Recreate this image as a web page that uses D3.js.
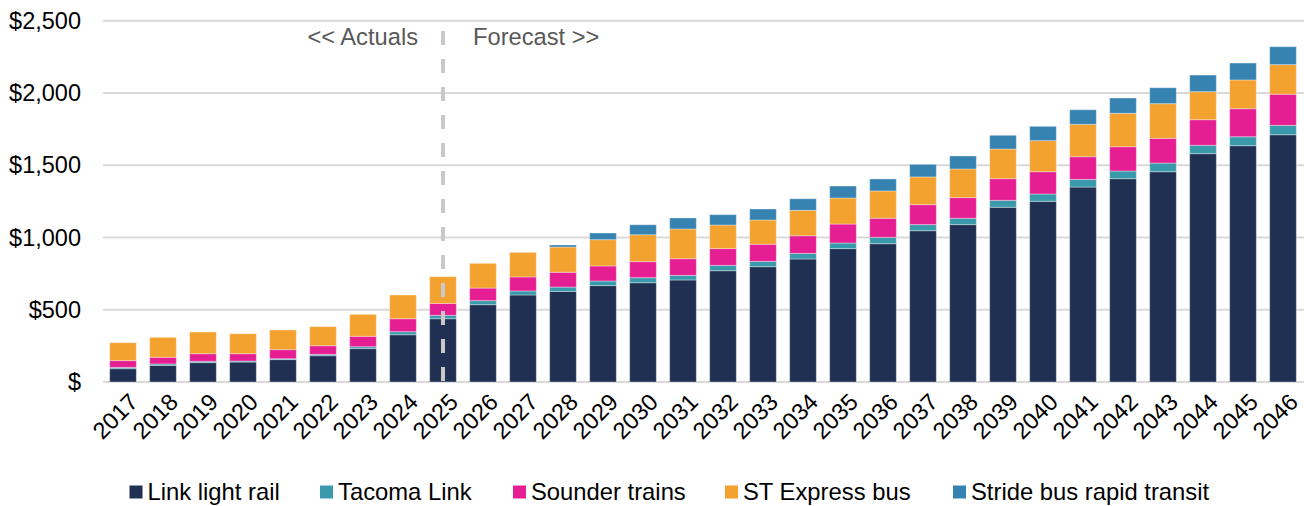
<!DOCTYPE html>
<html>
<head>
<meta charset="utf-8">
<script src="https://cdn.jsdelivr.net/npm/d3@7"></script>
<style>
  html, body { margin: 0; padding: 0; background: #fff; }
  svg { display: block; }
  text { font-family: "Liberation Sans", Arial, sans-serif; }
</style>
</head>
<body>
<svg id="chart" width="1304" height="506"></svg>
<script>
// Sound Transit operating cost by mode, $ millions
const years = ["2017","2018","2019","2020","2021","2022","2023","2024","2025","2026",
  "2027","2028","2029","2030","2031","2032","2033","2034","2035","2036",
  "2037","2038","2039","2040","2041","2042","2043","2044","2045","2046"];

const linkLightRail = [92,115,134,138,155,182,231,327,438,535,602,627,667,687,706,
  770,798,851,923,957,1047,1089,1209,1250,1349,1407,1455,1580,1635,1711];
const tacomaLink = [9,10,9,7,6,9,13,21,23,28,28,30,32,35,32,
  37,37,39,39,44,42,44,48,51,53,53,60,58,62,65];
const sounderTrains = [47,46,53,51,63,60,72,90,83,87,97,102,104,111,115,
  116,118,122,131,132,138,143,150,154,157,168,171,177,194,215];
const stExpressBus = [124,138,150,138,136,132,152,164,185,171,170,175,182,186,206,
  163,168,176,180,189,192,198,205,215,224,231,240,194,199,205];
const strideBrt = [0,0,0,0,0,0,0,0,0,0,0,14,46,69,76,
  72,76,80,83,83,87,90,95,99,101,106,110,115,117,124];

const seriesNames = ["Link light rail","Tacoma Link","Sounder trains","ST Express bus","Stride bus rapid transit"];
const seriesValues = [linkLightRail, tacomaLink, sounderTrains, stExpressBus, strideBrt];
const seriesColors = ["#1f3052","#3a9aab","#e61e93","#f3a12f","#3683b2"];

const yTicks = [0, 500, 1000, 1500, 2000, 2500];
const yTickLabels = ["$", "$500", "$1,000", "$1,500", "$2,000", "$2,500"];
const splitYear = "2025";

const svg = d3.select("#chart");
const margin = { left: 103, right: 1, top: 20.7, bottom: 382 };

const x = d3.scaleBand().domain(years).range([margin.left, 1304 - margin.right]).paddingInner(0.333).paddingOuter(0.1665);
const y = d3.scaleLinear().domain([0, 2500]).range([margin.bottom, margin.top]);

// table rows for stacking
const rows = years.map((yr, i) => {
  const r = { year: yr };
  seriesNames.forEach((n, k) => { r[n] = seriesValues[k][i]; });
  return r;
});
const stacked = d3.stack().keys(seriesNames)(rows);

// gridlines
svg.append("g")
  .selectAll("line")
  .data(yTicks)
  .join("line")
  .attr("x1", margin.left).attr("x2", 1304)
  .attr("y1", d => y(d)).attr("y2", d => y(d))
  .attr("stroke", "#d9d9d9").attr("stroke-width", 2);

// y tick labels
svg.append("g")
  .selectAll("text")
  .data(yTicks)
  .join("text")
  .attr("x", 81).attr("y", d => y(d))
  .attr("dy", "0.35em")
  .attr("text-anchor", "end")
  .attr("font-size", 23.5)
  .attr("fill", "#000")
  .text((d, i) => yTickLabels[i]);

// stacked bars
svg.append("g")
  .selectAll("g")
  .data(stacked)
  .join("g")
  .attr("fill", (d, i) => seriesColors[i])
  .selectAll("rect")
  .data(d => d.filter(s => s[1] - s[0] > 0))
  .join("rect")
  .attr("x", d => x(d.data.year))
  .attr("width", x.bandwidth())
  .attr("y", d => y(d[1]))
  .attr("height", d => y(d[0]) - y(d[1]))
  .attr("stroke", "rgba(255,255,255,0.35)")
  .attr("stroke-width", 1);

// x tick labels, rotated
svg.append("g")
  .selectAll("text")
  .data(years)
  .join("text")
  .attr("transform", d => `translate(${x(d) + x.bandwidth() / 2 + 4},${391}) rotate(-45)`)
  .attr("text-anchor", "end")
  .attr("dy", "0.75em")
  .attr("font-size", 23.5)
  .attr("fill", "#000")
  .text(d => d);

// actuals / forecast divider
const xs = x(splitYear) + x.bandwidth() / 2;
svg.append("line")
  .attr("x1", xs).attr("x2", xs)
  .attr("y1", 31).attr("y2", y(0))
  .attr("stroke", "#c9c9c9").attr("stroke-width", 4)
  .attr("stroke-dasharray", "14,14");

svg.append("text")
  .attr("x", 418).attr("y", 45)
  .attr("text-anchor", "end")
  .attr("font-size", 23.7).attr("fill", "#595959")
  .text("<< Actuals");
svg.append("text")
  .attr("x", 473).attr("y", 45)
  .attr("font-size", 23.7).attr("fill", "#595959")
  .text("Forecast >>");

// legend
const legendX = [129.5, 320, 513, 725, 953];
const legend = svg.append("g");
seriesNames.forEach((n, i) => {
  const g = legend.append("g").attr("transform", `translate(${legendX[i]},0)`);
  g.append("rect").attr("x", 0).attr("y", 485.5).attr("width", 13).attr("height", 13)
    .attr("fill", seriesColors[i]);
  g.append("text").attr("x", 18).attr("y", 500)
    .attr("font-size", 23.8).attr("fill", "#000").text(n);
});
</script>
</body>
</html>
